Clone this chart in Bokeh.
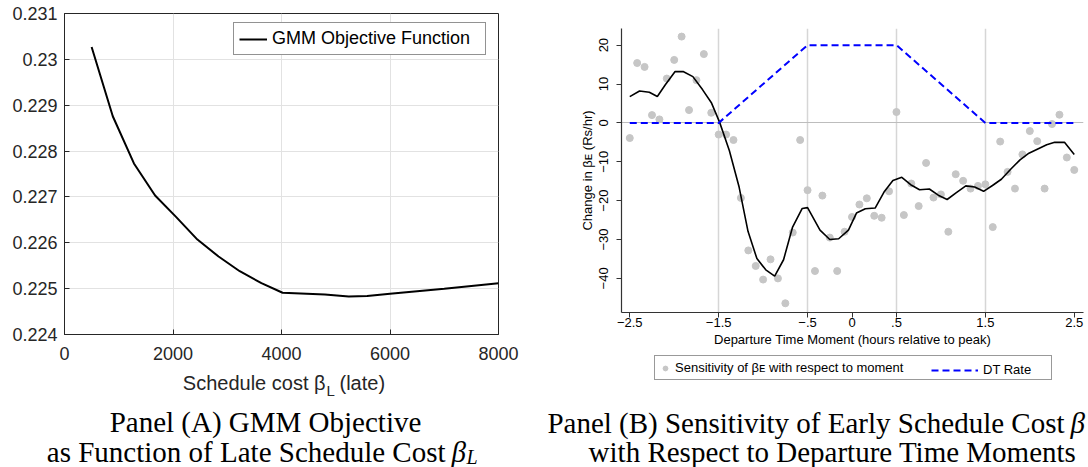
from bokeh.plotting import figure
from bokeh.layouts import row, column
from bokeh.models import Range1d, FixedTicker, Legend, LegendItem, Label
from bokeh.embed import file_html
from bokeh.resources import INLINE

# ---------------- Panel A data ----------------
beta_L = [500, 890, 1280, 1670, 2060, 2450, 2840, 3230, 3630, 4020,
          4800, 5240, 5580, 6000, 7000, 8000]
gmm_obj = [0.23027, 0.22876, 0.22773, 0.22703, 0.22656, 0.22607, 0.22570,
           0.22538, 0.22512, 0.22491, 0.22487, 0.22483, 0.22484, 0.22489,
           0.22500, 0.22512]
a_xticks = [0, 2000, 4000, 6000, 8000]
a_yticks = [0.224, 0.225, 0.226, 0.227, 0.228, 0.229, 0.23, 0.231]
a_ytick_labels = ["0.224", "0.225", "0.226", "0.227", "0.228", "0.229", "0.23", "0.231"]

# ---------------- Panel B data ----------------
moment_minutes = [-150, -145, -140, -135, -130, -125, -120, -115, -110, -105,
                  -100, -95, -90, -85, -80, -75, -70, -65, -60, -55,
                  -50, -45, -40, -35, -30, -25, -20, -15, -10, -5,
                  0, 5, 10, 15, 20, 25, 30, 35, 40, 45,
                  50, 55, 60, 65, 70, 75, 80, 85, 90, 95,
                  100, 105, 110, 115, 120, 125, 130, 135, 140, 145, 150]
sensitivity = [-3.9, 15.4, 14.4, 2.0, 0.9, 11.4, 16.2, 22.2, 3.3, 11.0,
               17.7, 2.6, -3.0, -3.0, -4.4, -19.3, -32.8, -36.8, -40.3, -35.1,
               -40.0, -46.4, -28.2, -4.4, -17.3, -38.1, -18.7, -29.5, -38.1, -28.0,
               -24.2, -21.0, -19.4, -23.9, -24.4, -17.6, 2.8, -23.7, -15.6, -21.4,
               -10.3, -19.2, -18.4, -28.0, -13.2, -14.9, -16.9, -16.2, -15.8, -26.8,
               -4.8, -12.6, -16.9, -8.1, -2.1, -4.7, -16.9, -0.3, 2.1, -8.9, -12.1]
smooth_hours = [-2.50, -2.39, -2.28, -2.19, -2.10, -1.99, -1.90, -1.79, -1.68, -1.58,
                -1.49, -1.38, -1.27, -1.17, -1.07, -0.97, -0.87, -0.77, -0.67, -0.56,
                -0.50, -0.36, -0.25, -0.15, -0.04, 0.05, 0.15, 0.26, 0.36, 0.46,
                0.56, 0.66, 0.76, 0.87, 0.97, 1.07, 1.17, 1.28, 1.38, 1.48,
                1.58, 1.68, 1.79, 1.89, 1.99, 2.09, 2.19, 2.28, 2.39, 2.50]
smooth_sens = [6.75, 8.2, 7.9, 6.8, 9.8, 13.2, 13.2, 11.9, 8.5, 5.1,
               0.2, -7.1, -16.5, -27.9, -34.9, -37.8, -39.4, -35.2, -26.9, -22.0,
               -21.8, -27.6, -30.0, -29.8, -27.6, -23.2, -22.1, -21.9, -17.8, -14.8,
               -14.0, -15.9, -17.2, -17.0, -18.6, -19.7, -18.0, -16.2, -16.5, -17.6,
               -16.1, -14.5, -11.8, -9.5, -7.8, -6.7, -5.6, -5.0, -5.0, -8.1]
dt_hours = [-2.5, -1.5, -0.5, 0.5, 1.5, 2.5]
dt_rate = [0, 0, 20, 20, 0, 0]
b_xticks = [-2.5, -1.5, -0.5, 0, 0.5, 1.5, 2.5]
b_xtick_labels = ["\u22122.5", "\u22121.5", "\u2212.5", "0", ".5", "1.5", "2.5"]
b_xgrid = [-1.5, -0.5, 0.5, 1.5]
b_yticks = [-40, -30, -20, -10, 0, 10, 20]
b_ytick_labels = ["\u221240", "\u221230", "\u221220", "\u221210", "0", "10", "20"]

moment_hours = [m / 60 for m in moment_minutes]

SANS = "Liberation Sans"
SERIF = "Liberation Serif"
CAP = "29px"


def blank_fig(w, h):
    f = figure(width=w, height=h, title=None, x_range=Range1d(0, w), y_range=Range1d(h, 0),
               x_axis_type=None, y_axis_type=None, output_backend="svg", toolbar_location=None,
               min_border_left=0, min_border_right=0, min_border_top=0, min_border_bottom=0)
    f.outline_line_color = None
    f.grid.visible = False
    return f


def put(f, txt, x, y, size, align="left", font=SANS, style="normal", color="black"):
    # y is the vertical middle of the text line (pixels from the top of the strip)
    f.add_layout(Label(x=x, y=y, text=txt, text_font=font, text_font_size=size,
                       text_font_style=style, text_align=align, text_baseline="middle",
                       text_color=color))


# ================= Panel A =================
axcol = "#262626"
pa = figure(width=540, height=370, title=None, x_range=Range1d(0, 8000),
            y_range=Range1d(0.224, 0.231), output_backend="svg", toolbar_location=None,
            min_border_left=64, min_border_right=42, min_border_top=13, min_border_bottom=36)
pa.xaxis.ticker = FixedTicker(ticks=a_xticks)
pa.yaxis.ticker = FixedTicker(ticks=a_yticks)
pa.yaxis.major_label_overrides = dict(zip(a_yticks, a_ytick_labels))
pa.xgrid.ticker = FixedTicker(ticks=a_xticks)
pa.ygrid.ticker = FixedTicker(ticks=a_yticks)
for g in (pa.xgrid, pa.ygrid):
    g.grid_line_color = "#e2e2e2"
    g.grid_line_width = 1
for ax in (pa.xaxis, pa.yaxis):
    ax.axis_line_color = axcol
    ax.major_tick_line_color = axcol
    ax.major_tick_in = 5
    ax.major_tick_out = 0
    ax.minor_tick_line_color = None
    ax.major_label_text_font = SANS
    ax.major_label_text_font_size = "18px"
    ax.major_label_text_color = axcol
pa.yaxis.major_label_standoff = 7
pa.xaxis.major_label_standoff = 12
pa.outline_line_color = axcol
pa.outline_line_alpha = 1
pa.outline_line_width = 1

ra = pa.line(beta_L, gmm_obj, line_color="black", line_width=2)
leg_a = Legend(items=[LegendItem(label="GMM Objective Function", renderers=[ra])],
               location=(169, 279), orientation="vertical", padding=5, spacing=0, margin=0,
               glyph_width=28, glyph_height=20, label_standoff=5, label_height=20, label_width=208,
               label_text_font=SANS, label_text_font_size="18px", label_text_color="black",
               border_line_color=axcol, border_line_width=1, background_fill_color="white",
               background_fill_alpha=1)
pa.add_layout(leg_a, "center")

# strip below panel A: axis title (with subscript) and caption
ca = blank_fig(540, 97)
put(ca, "Schedule cost \u03b2", 325, 12, "20px", "right", color=axcol)
put(ca, "L", 326, 20, "15px", "left", color=axcol)
put(ca, "(late)", 339, 12, "20px", "left", color=axcol)
put(ca, "Panel (A) GMM Objective", 265, 51, CAP, "center", font=SERIF)
put(ca, "as Function of Late Schedule Cost", 445, 81, CAP, "right", font=SERIF)
put(ca, "\u03b2", 451, 81, CAP, "left", font=SERIF, style="italic")
put(ca, "L", 466, 86, "20px", "left", font=SERIF, style="italic")

# ================= Panel B =================
bcol = "#333333"
pb = figure(width=548, height=350, title=None, x_range=Range1d(-2.593, 2.604),
            y_range=Range1d(-48.77, 24.28), output_backend="svg", toolbar_location=None,
            min_border_left=81, min_border_right=5, min_border_top=28, min_border_bottom=38)
pb.outline_line_color = None
pb.xaxis.ticker = FixedTicker(ticks=b_xticks)
pb.xaxis.major_label_overrides = dict(zip(b_xticks, b_xtick_labels))
pb.yaxis.ticker = FixedTicker(ticks=b_yticks)
pb.yaxis.major_label_overrides = dict(zip(b_yticks, b_ytick_labels))
pb.yaxis.major_label_orientation = "vertical"
pb.xgrid.ticker = FixedTicker(ticks=b_xgrid)
pb.xgrid.grid_line_color = "#d6d6d6"
pb.xgrid.grid_line_width = 1.5
pb.ygrid.ticker = FixedTicker(ticks=[0])
pb.ygrid.grid_line_color = "#bdbdbd"
pb.ygrid.grid_line_width = 1
for ax in (pb.xaxis, pb.yaxis):
    ax.axis_line_color = bcol
    ax.axis_line_width = 1.2
    ax.major_tick_line_color = bcol
    ax.major_tick_out = 5
    ax.major_tick_in = 0
    ax.minor_tick_line_color = None
    ax.major_label_text_font = SANS
    ax.major_label_text_font_size = "13px"
    ax.major_label_text_color = "black"
    ax.axis_label_text_font = SANS
    ax.axis_label_text_font_size = "13px"
    ax.axis_label_text_font_style = "normal"
    ax.axis_label_text_color = "black"
pb.xaxis.axis_label = "Departure Time Moment (hours relative to peak)"
pb.yaxis.axis_label = "Change in \u03b2\u1d07 (Rs/hr)"
pb.xaxis.major_label_standoff = 0
pb.xaxis.axis_label_standoff = 2
pb.yaxis.major_label_standoff = 8
pb.yaxis.axis_label_standoff = 2

sc_style = dict(size=7, fill_color="#c6c6c6", line_color="#c6c6c6")
dt_style = dict(line_color="#0000ff", line_width=2, line_dash="7 4")
pb.scatter(moment_hours, sensitivity, **sc_style)
pb.line(smooth_hours, smooth_sens, line_color="black", line_width=1.6)
pb.line(dt_hours, dt_rate, **dt_style)

# strip below panel B: legend and caption
cb = blank_fig(548, 117)
# legend proxies: same series, mapped onto ranges far outside this strip's view
cb.extra_x_ranges = {"off": Range1d(1000, 1001)}
cb.extra_y_ranges = {"off": Range1d(1000, 1001)}
ls = cb.scatter(moment_hours, sensitivity, x_range_name="off", y_range_name="off", **sc_style)
ld = cb.line(dt_hours, dt_rate, x_range_name="off", y_range_name="off", **dt_style)
leg_b1 = Legend(items=[LegendItem(label="Sensitivity of \u03b2\u1d07 with respect to moment", renderers=[ls])],
                location=(114, 87), orientation="horizontal", padding=4, spacing=0, margin=0,
                glyph_width=12, glyph_height=12, label_standoff=4, label_height=15, label_width=372,
                label_text_font=SANS, label_text_font_size="13px", label_text_color="black",
                border_line_color=bcol, border_line_width=1, background_fill_color="white",
                background_fill_alpha=1)
leg_b2 = Legend(items=[LegendItem(label="DT Rate", renderers=[ld])],
                location=(391, 90), orientation="horizontal", padding=4, spacing=0, margin=0,
                glyph_width=47, glyph_height=12, label_standoff=5, label_height=15,
                label_text_font=SANS, label_text_font_size="13px", label_text_color="black",
                border_line_color=None, background_fill_alpha=0)
cb.add_layout(leg_b1, "center")
cb.add_layout(leg_b2, "center")
put(cb, "Panel (B) Sensitivity of Early Schedule Cost", 524, 72, CAP, "right", font=SERIF)
put(cb, "\u03b2", 530, 72, CAP, "left", font=SERIF, style="italic")
put(cb, "with Respect to Departure Time Moments", 292, 101, CAP, "center", font=SERIF)

layout = row(column(row(pa), row(ca)), column(row(pb), row(cb)))
open("out.html", "w").write(file_html(layout, INLINE))
